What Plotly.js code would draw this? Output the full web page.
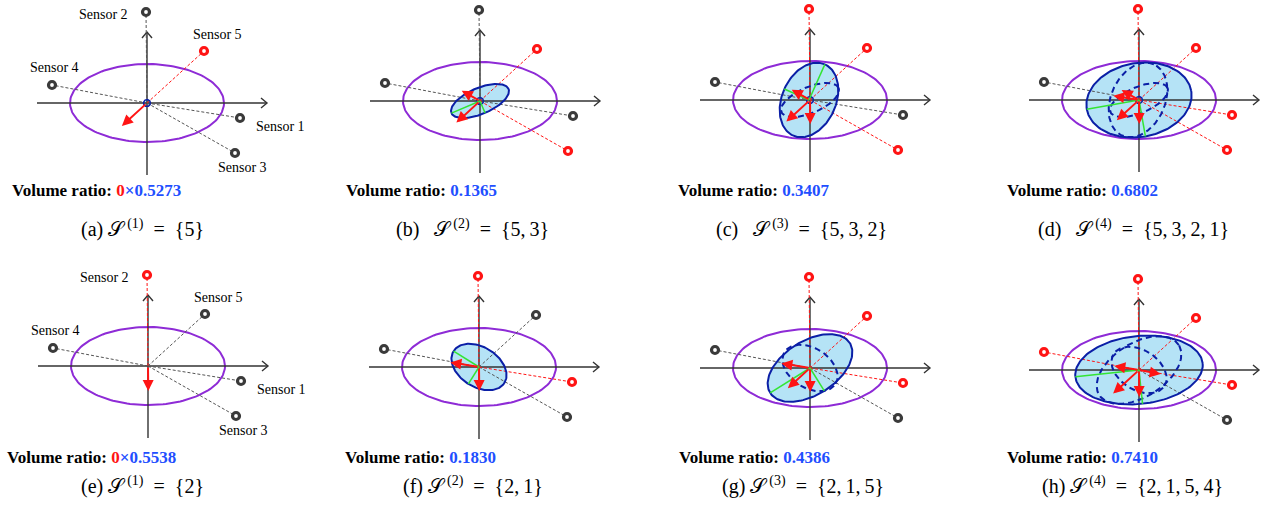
<!DOCTYPE html>
<html>
<head>
<meta charset="utf-8">
<script src="https://cdn.plot.ly/plotly-3.0.1.min.js"></script>
<style>html,body{margin:0;padding:0;background:#fff;}#chart{width:1270px;height:511px;}</style>
</head>
<body>
<div id="chart"></div>
<script>
// ---------------- DATA ----------------
const sensorNames = ['Sensor 1', 'Sensor 2', 'Sensor 3', 'Sensor 4', 'Sensor 5'];
const sensorX = [93, -1, 88, -95, 57];
const sensorY = [-15, 91, -50, 18, 52];

const panelLetters = ['a', 'b', 'c', 'd', 'e', 'f', 'g', 'h'];
const stepNumber = [1, 2, 3, 4, 1, 2, 3, 4];
const selectedSets = [[5], [5, 3], [5, 3, 2], [5, 3, 2, 1], [2], [2, 1], [2, 1, 5], [2, 1, 5, 4]];
const volumeRatios = ['0.5273', '0.1365', '0.3407', '0.6802', '0.5538', '0.1830', '0.4386', '0.7410'];
const zeroFactor = [true, false, false, false, true, false, false, false];

// arrow length per selected sensor (same order as selectedSets)
const arrowLengths = [[34], [32, 21], [32, 21, 24], [30, 20, 24, 26], [25], [24, 29], [24, 29, 30], [27, 25, 35, 22]];

// information ellipses by step for each row: [cx, cy, semiMajor, semiMinor, angleDeg]
const row1Ellipses = [[0, 0, 3.5, 3.5, 0], [0, 0, 31, 13, 23], [-1, 0, 39, 27, 66], [0, 0, 53, 37, 10]];
const row2Ellipses = [null, [0, 0, 30, 20, -32], [0, 0, 47, 27, 32], [0, 0, 64, 34, 6]];
// parametric angles (deg) of the green semi-axes drawn in the current ellipse
const greenParams = [[], [180, 270], [0, 90], [180, 270], [], [180, 270], [180, 270], [180, 270]];

// prior (purple) ellipse
const priorEllipse = [0, 0, 77, 39, 0];

// ---------------- LAYOUT SETTINGS ----------------
const W = 1270, H = 511;
const originPx = [[147, 103], [480, 101], [810, 100], [1139, 100], [148, 366], [479, 367], [810, 368], [1139, 370]];
const ratioPos = [[10, 190], [344, 190], [676, 190], [1005, 190], [5, 457], [343, 457], [677, 457], [1005, 457]];
const captionPos = [[142, 228], [472, 228], [801, 228], [1133, 228], [142, 485], [473, 485], [803, 485], [1132, 485]];
const sensorLabelOffsets = [[40, -8], [-43, -2], [7, -14], [2, 18], [13, 17]];
const axisExtent = {xmin: -110, xmax: 120, ymin: -72, ymax: 71};

const C = {
  axis: '#333333', grayDash: '#555555', graySensor: '#3a3a3a', red: '#ff1414',
  purple: '#8e2bd6', blue: '#0b1fa6', fill: '#b5e3f6', green: '#33e533', num: '#1f4fff'
};

function ellipsePts(e, n) {
  n = n || 160;
  const [cx, cy, a, b, th] = e;
  const t0 = th * Math.PI / 180;
  const xs = [], ys = [];
  for (let i = 0; i <= n; i++) {
    const t = 2 * Math.PI * i / n;
    const u = a * Math.cos(t), v = b * Math.sin(t);
    xs.push(cx + u * Math.cos(t0) - v * Math.sin(t0));
    ys.push(cy + u * Math.sin(t0) + v * Math.cos(t0));
  }
  return {x: xs, y: ys};
}
function ellipsePoint(e, tDeg) {
  const [cx, cy, a, b, th] = e;
  const t0 = th * Math.PI / 180, t = tDeg * Math.PI / 180;
  const u = a * Math.cos(t), v = b * Math.sin(t);
  return [cx + u * Math.cos(t0) - v * Math.sin(t0), cy + u * Math.sin(t0) + v * Math.cos(t0)];
}

const traces = [];
const annotations = [];
const layout = {
  width: W, height: H, margin: {l: 0, r: 0, t: 0, b: 0},
  paper_bgcolor: '#ffffff', plot_bgcolor: 'rgba(0,0,0,0)', showlegend: false,
  font: {family: 'Liberation Serif, serif', color: '#000'}
};

for (let p = 0; p < 8; p++) {
  const [ox, oy] = originPx[p];
  const sfx = p === 0 ? '' : String(p + 1);
  const xa = 'x' + sfx, ya = 'y' + sfx;
  const xlo = -140, xhi = Math.min(175, W - ox - 1);
  const ylo = -80, yhi = 100;
  layout['xaxis' + sfx] = {domain: [(ox + xlo) / W, (ox + xhi) / W], range: [xlo, xhi], visible: false, fixedrange: true, anchor: ya};
  layout['yaxis' + sfx] = {domain: [1 - (oy - ylo) / H, 1 - (oy - yhi) / H], range: [ylo, yhi], visible: false, fixedrange: true, anchor: xa};

  const rowEll = p < 4 ? row1Ellipses : row2Ellipses;
  const step = stepNumber[p];
  const current = rowEll[step - 1];
  const base = {xaxis: xa, yaxis: ya, hoverinfo: 'skip', type: 'scatter'};

  // filled current ellipse
  if (current) {
    const pts = ellipsePts(current);
    traces.push(Object.assign({}, base, {x: pts.x, y: pts.y, mode: 'lines', fill: 'toself', fillcolor: C.fill, line: {width: 0, color: C.fill}}));
  }
  // purple prior ellipse
  const pe = ellipsePts(priorEllipse);
  traces.push(Object.assign({}, base, {x: pe.x, y: pe.y, mode: 'lines', line: {color: C.purple, width: 2}}));

  // coordinate axes with open arrowheads
  const ax = [axisExtent.xmin, axisExtent.xmax, null, axisExtent.xmax - 6, axisExtent.xmax, axisExtent.xmax - 6, null, 0, 0, null, -5, 0, 5];
  const ay = [0, 0, null, 5, 0, -5, null, axisExtent.ymin, axisExtent.ymax, null, axisExtent.ymax - 6, axisExtent.ymax, axisExtent.ymax - 6];
  traces.push(Object.assign({}, base, {x: ax, y: ay, mode: 'lines', line: {color: C.axis, width: 1.4}}));

  // dashed lines to sensors
  const sel = selectedSets[p];
  const gx = [], gy = [], rx = [], ry = [];
  for (let s = 0; s < 5; s++) {
    const isSel = sel.indexOf(s + 1) >= 0;
    (isSel ? rx : gx).push(0, sensorX[s], null);
    (isSel ? ry : gy).push(0, sensorY[s], null);
  }
  traces.push(Object.assign({}, base, {x: gx, y: gy, mode: 'lines', line: {color: C.grayDash, width: 1, dash: '3px,2px'}}));
  traces.push(Object.assign({}, base, {x: rx, y: ry, mode: 'lines', line: {color: C.red, width: 1, dash: '3px,2px'}}));

  // earlier ellipses (dashed)
  for (let k = 0; k < step - 1; k++) {
    const e = rowEll[k];
    if (!e) continue;
    const pts = ellipsePts(e);
    const tiny = e[2] < 6;
    traces.push(Object.assign({}, base, {x: pts.x, y: pts.y, mode: 'lines', line: {color: C.blue, width: tiny ? 1.5 : 2, dash: tiny ? 'solid' : '6px,4px'}}));
  }
  // current ellipse border
  if (current) {
    const pts = ellipsePts(current);
    const tiny = current[2] < 6;
    traces.push(Object.assign({}, base, {x: pts.x, y: pts.y, mode: 'lines', line: {color: C.blue, width: tiny ? 1.5 : 2}}));
    // green semi-axes
    const gl = {x: [], y: []};
    greenParams[p].forEach(t => {
      const q = ellipsePoint(current, t);
      gl.x.push(current[0], q[0], null); gl.y.push(current[1], q[1], null);
    });
    if (gl.x.length) traces.push(Object.assign({}, base, {x: gl.x, y: gl.y, mode: 'lines', line: {color: C.green, width: 1.5}}));
  }

  // red arrows (opposite to each selected sensor direction)
  sel.forEach((sn, j) => {
    const sx = sensorX[sn - 1], sy = sensorY[sn - 1];
    const n = Math.hypot(sx, sy), L = arrowLengths[p][j];
    annotations.push({xref: xa, yref: ya, axref: xa, ayref: ya, x: -sx / n * L, y: -sy / n * L, ax: 0, ay: 0,
      text: '', showarrow: true, arrowhead: 2, arrowsize: 1.1, arrowwidth: 2, arrowcolor: C.red, standoff: 0, startstandoff: 0});
  });

  // sensors
  const gsx = [], gsy = [], rsx = [], rsy = [];
  for (let s = 0; s < 5; s++) {
    const isSel = sel.indexOf(s + 1) >= 0;
    (isSel ? rsx : gsx).push(sensorX[s]);
    (isSel ? rsy : gsy).push(sensorY[s]);
  }
  traces.push(Object.assign({}, base, {x: gsx, y: gsy, mode: 'markers', marker: {symbol: 'circle', size: 7, color: '#ffffff', line: {color: C.graySensor, width: 3.2}}}));
  traces.push(Object.assign({}, base, {x: rsx, y: rsy, mode: 'markers', marker: {symbol: 'circle', size: 7, color: '#ffffff', line: {color: C.red, width: 3.2}}}));

  // sensor labels in first column
  if (step === 1) {
    for (let s = 0; s < 5; s++) {
      annotations.push({xref: xa, yref: ya, x: sensorX[s] + sensorLabelOffsets[s][0], y: sensorY[s] + sensorLabelOffsets[s][1],
        text: sensorNames[s], showarrow: false, font: {family: 'Liberation Serif', size: 14, color: '#000'}});
    }
  }

  // volume ratio
  const num = zeroFactor[p]
    ? '<b><span style="color:' + C.red + '">0</span></b><b><span style="color:' + C.num + '">×' + volumeRatios[p] + '</span></b>'
    : '<b><span style="color:' + C.num + '">' + volumeRatios[p] + '</span></b>';
  annotations.push({xref: 'paper', yref: 'paper', x: ratioPos[p][0] / W, y: 1 - ratioPos[p][1] / H, xanchor: 'left', yanchor: 'middle',
    text: '<b>Volume ratio: </b>' + num, showarrow: false, font: {family: 'Liberation Serif', size: 17, color: '#000'}});

  // caption
  const gap = (p >= 1 && p <= 3) ? '\u00a0\u2002' : '\u00a0';
  annotations.push({xref: 'paper', yref: 'paper', x: captionPos[p][0] / W, y: 1 - captionPos[p][1] / H, xanchor: 'center', yanchor: 'middle',
    text: '(' + panelLetters[p] + ')' + gap + '𝒮\u2009<sup>(' + step + ')</sup>\u2002=\u2002{' + selectedSets[p].join(',\u2009') + '}',
    showarrow: false, font: {family: 'Liberation Serif', size: 20, color: '#000'}});
}
layout.annotations = annotations;

Plotly.newPlot('chart', traces, layout, {staticPlot: true, displayModeBar: false});
</script>
</body>
</html>
